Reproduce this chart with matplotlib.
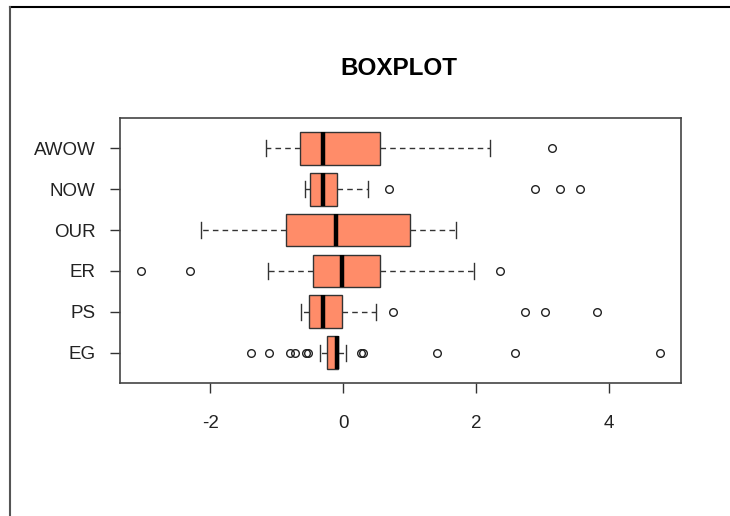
import matplotlib
matplotlib.use("Agg")
import matplotlib.pyplot as plt
from matplotlib.lines import Line2D

plt.rcParams['font.family'] = ['Liberation Sans', 'DejaVu Sans']

# Groups, top to bottom as drawn
labels = ["AWOW", "NOW", "OUR", "ER", "PS", "EG"]

# five-number summaries
whisk_lo = [-1.16, -0.57, -2.14, -1.14, -0.63, -0.35]
q1 = [-0.65, -0.50, -0.86, -0.45, -0.51, -0.24]
med = [-0.30, -0.305, -0.115, -0.025, -0.30, -0.09]
q3 = [0.55, -0.095, 1.00, 0.55, -0.02, -0.075]
whisk_hi = [2.20, 0.37, 1.70, 1.97, 0.49, 0.045]
outliers = [
    [3.14],
    [0.69, 2.88, 3.26, 3.56],
    [],
    [-3.04, -2.30, 2.36],
    [0.75, 2.74, 3.03, 3.82],
    [-1.39, -1.12, -0.81, -0.72, -0.56, -0.53, 0.27, 0.29, 1.41, 2.58, 4.76],
]

stats = []
for i in range(len(labels)):
    stats.append({
        "label": labels[i],
        "whislo": whisk_lo[i],
        "q1": q1[i],
        "med": med[i],
        "q3": q3[i],
        "whishi": whisk_hi[i],
        "fliers": outliers[i],
    })
# R draws the first group at the bottom, so reverse order for positions
positions = list(range(len(labels), 0, -1))

fig = plt.figure(figsize=(7.3, 5.16), dpi=100)
ax = fig.add_axes([0.1644, 0.2578, 0.7685, 0.5135])

ax.bxp(stats, positions=positions, vert=False, widths=0.8, capwidths=0.4,
       patch_artist=True, showfliers=True,
       boxprops=dict(facecolor="#FF8C69", edgecolor="#333333", linewidth=1.0),
       medianprops=dict(color="black", linewidth=3.2, solid_capstyle="butt"),
       whiskerprops=dict(color="#333333", linewidth=1.0, linestyle=(0, (4, 3))),
       capprops=dict(color="#333333", linewidth=1.0),
       flierprops=dict(marker="o", markersize=5.5, markerfacecolor="none",
                       markeredgecolor="#222222", markeredgewidth=1.0))

ax.set_xlim(-3.36, 5.08)
ax.set_ylim(0.26, 6.74)
ax.set_xticks([-2, 0, 2, 4])
ax.set_xticklabels(["-2", "0", "2", "4"])
ax.set_yticks(positions)
ax.set_yticklabels(labels)
ax.tick_params(axis="both", labelsize=13.5, length=7.2, width=1.0, color="#333333",
               labelcolor="#222222")
ax.tick_params(axis="x", pad=15.5)
ax.tick_params(axis="y", pad=10.5)
for s in ax.spines.values():
    s.set_color("#444444")
    s.set_linewidth(1.2)

fig.text(0.546, 0.868, "BOXPLOT", ha="center", va="center", fontsize=17.5,
         fontweight="bold")

# screenshot frame: top and left edges
fig.add_artist(Line2D([10 / 730, 1.0], [1 - 7 / 516, 1 - 7 / 516],
                      transform=fig.transFigure, color="black", linewidth=1.5))
fig.add_artist(Line2D([10 / 730, 10 / 730], [0.0, 1 - 7 / 516],
                      transform=fig.transFigure, color="#555555", linewidth=1.5))

fig.savefig("out.png", dpi=100)
